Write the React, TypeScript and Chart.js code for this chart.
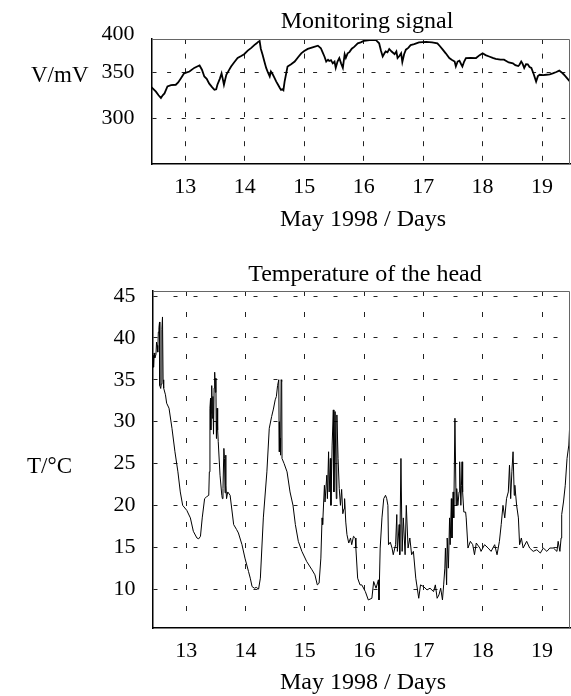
import { useEffect, useRef } from "react";
import { Chart, registerables } from "chart.js";

Chart.register(...registerables);

const FONT = '"Liberation Serif", "Times New Roman", serif';

const dayTicks = [13, 14, 15, 16, 17, 18, 19];
const signalTicks = [300, 350];
const tempTicks = [10, 15, 20, 25, 30, 35, 40, 45];

const signalTitle = "Monitoring signal";
const tempTitle = "Temperature of the head";
const xTitle = "May 1998 / Days";
const signalUnit = "V/mV";
const tempUnit = "T/°C";
const signalTopLabel = "400";

const signalDays = [
  12.42, 12.46, 12.506, 12.55, 12.59, 12.62, 12.65, 12.7, 12.76, 12.84, 12.88, 12.93, 12.98,
  13.07, 13.15, 13.2, 13.24, 13.28, 13.32, 13.36, 13.4, 13.45, 13.49, 13.52, 13.54, 13.58,
  13.61, 13.63, 13.65, 13.67, 13.69, 13.73, 13.77, 13.82, 13.88, 13.94, 13.99, 14.05, 14.11,
  14.16, 14.2, 14.22, 14.25, 14.27, 14.3, 14.33, 14.36, 14.39, 14.42, 14.44, 14.47, 14.5,
  14.53, 14.56, 14.59, 14.61, 14.63, 14.65, 14.67, 14.7, 14.72, 14.78, 14.84, 14.9, 14.95,
  15.0, 15.06, 15.14, 15.23, 15.28, 15.31, 15.34, 15.37, 15.4, 15.42, 15.45, 15.48, 15.51,
  15.53, 15.56, 15.59, 15.62, 15.65, 15.68, 15.7, 15.73, 15.76, 15.8, 15.84, 15.87, 15.9,
  15.95, 16.01, 16.1, 16.2, 16.26, 16.29, 16.32, 16.35, 16.37, 16.4, 16.43, 16.47, 16.52,
  16.55, 16.57, 16.6, 16.63, 16.65, 16.68, 16.71, 16.75, 16.79, 16.85, 16.93, 17.05, 17.15,
  17.24, 17.28, 17.33, 17.38, 17.44, 17.48, 17.53, 17.55, 17.58, 17.61, 17.64, 17.66, 17.69,
  17.72, 17.8, 17.89, 17.95, 18.0, 18.05, 18.11, 18.17, 18.22, 18.3, 18.36, 18.44, 18.51,
  18.55, 18.6, 18.62, 18.65, 18.67, 18.7, 18.73, 18.76, 18.79, 18.82, 18.86, 18.9, 18.93,
  18.96, 19.02, 19.07, 19.13, 19.18, 19.24, 19.29, 19.33, 19.37, 19.43, 19.49,
];
const signalValues = [
  334.6, 332, 329, 325, 322, 325, 327, 334.6, 336, 336.5, 339, 344, 349,
  351, 355, 356.5, 357.7, 353, 345.6, 343, 338, 334, 331, 331.5, 336.5, 343,
  349, 343, 336.5, 342, 347.5, 352, 356.6, 361, 365.8, 368, 370, 374, 377,
  380, 382, 383.3, 384.5, 376, 369.4, 362, 355, 350, 345.6, 351, 348, 344,
  340, 336.5, 333, 331, 331.5, 330.5, 340, 350, 356.6, 359, 362, 367, 371,
  373.5, 375.8, 377.5, 379.4, 376.6, 372, 367.5, 362, 364, 362.6, 363.5, 360, 362,
  355, 362, 365.8, 360, 355, 370, 366, 371, 372.3, 376, 378, 380, 382,
  383, 384.8, 385.5, 385.9, 382, 374, 367.5, 371, 373, 372, 375.8, 373, 370,
  373, 365.8, 368, 371, 361.4, 370, 375, 377, 380, 381, 382.9, 383.5, 383,
  382, 379, 375, 371, 365.8, 364, 362, 356.6, 362, 363, 359, 356.6, 362,
  365.8, 366, 365.8, 369, 371, 369, 367.5, 366, 365, 364, 364, 361, 360,
  358, 357, 358.4, 362, 360, 355, 359, 358.9, 356, 355, 348, 340, 346,
  347.5, 347, 347.5, 348, 349, 350.5, 352, 350, 347.5, 343, 338.4,
];

const tempDays = [
  12.42, 12.425, 12.43, 12.44, 12.45, 12.46, 12.47, 12.49, 12.5, 12.51, 12.52, 12.53, 12.54,
  12.55, 12.555, 12.57, 12.58, 12.59, 12.6, 12.61, 12.62, 12.65, 12.67, 12.71, 12.76, 12.81,
  12.86, 12.9, 12.94, 13.01, 13.07, 13.12, 13.18, 13.21, 13.24, 13.27, 13.31, 13.34, 13.38,
  13.39, 13.4, 13.41, 13.415, 13.42, 13.43, 13.44, 13.45, 13.46, 13.47, 13.48, 13.49, 13.5,
  13.505, 13.51, 13.52, 13.53, 13.54, 13.57, 13.6, 13.61, 13.62, 13.635, 13.645, 13.655,
  13.665, 13.67, 13.68, 13.7, 13.74, 13.8, 13.85, 13.88, 13.94, 13.99, 14.05, 14.08, 14.11,
  14.15, 14.18, 14.22, 14.25, 14.3, 14.36, 14.4, 14.44, 14.47, 14.5, 14.52, 14.54, 14.56,
  14.565, 14.57, 14.585, 14.59, 14.6, 14.61, 14.615, 14.65, 14.7, 14.75, 14.8, 14.84, 14.89,
  14.95, 15.03, 15.12, 15.17, 15.21, 15.24, 15.27, 15.29, 15.3, 15.33, 15.34, 15.37, 15.38,
  15.4, 15.41, 15.43, 15.44, 15.46, 15.48, 15.49, 15.51, 15.53, 15.54, 15.56, 15.58, 15.6,
  15.62, 15.64, 15.66, 15.67, 15.69, 15.71, 15.74, 15.77, 15.79, 15.82, 15.85, 15.86, 15.89,
  15.93, 15.96, 16.02, 16.07, 16.13, 16.16, 16.2, 16.24, 16.25, 16.27, 16.3, 16.33, 16.36,
  16.38, 16.4, 16.41, 16.44, 16.47, 16.49, 16.53, 16.55, 16.56, 16.59, 16.6, 16.62, 16.64,
  16.66, 16.69, 16.71, 16.74, 16.77, 16.8, 16.83, 16.87, 16.92, 16.95, 17.0, 17.06, 17.11,
  17.17, 17.2, 17.23, 17.26, 17.29, 17.32, 17.34, 17.36, 17.37, 17.39, 17.4, 17.42, 17.44,
  17.45, 17.47, 17.48, 17.5, 17.51, 17.53, 17.55, 17.56, 17.58, 17.6, 17.61, 17.63, 17.64,
  17.65, 17.66, 17.68, 17.71, 17.72, 17.75, 17.79, 17.83, 17.86, 17.89, 17.95, 17.97, 18.03,
  18.09, 18.14, 18.2, 18.24, 18.28, 18.31, 18.34, 18.37, 18.4, 18.43, 18.45, 18.47, 18.49,
  18.51, 18.53, 18.54, 18.57, 18.6, 18.62, 18.65, 18.68, 18.74, 18.79, 18.85, 18.91, 18.97,
  19.02, 19.08, 19.13, 19.19, 19.25, 19.27, 19.3, 19.32, 19.33, 19.36, 19.39, 19.42, 19.45,
  19.47, 19.49,
];
const tempValues = [
  35.7, 37.3, 36.2, 37.9, 36.5, 38.2, 37.6, 38.0, 39.5, 39.1, 38.3, 40.7, 41.2,
  41.9, 34.3, 33.96, 34.5, 41, 42.5, 35, 34, 33.2, 32.2, 31.6, 29.2, 26.4,
  24, 21.6, 20, 19.4, 18.5, 16.9, 16.1, 16.0, 16.3, 18.5, 20.8, 21.0, 21.2,
  24, 31.6, 32.8, 29, 31, 34.3, 30.4, 33, 28.5, 34, 35.9, 33.5, 35.2,
  30, 28, 31.6, 29, 27.6, 23.6, 21.2, 20.8, 22, 26.8, 25.6, 21.5,
  26, 22.4, 20.8, 21.6, 21.2, 17.7, 17.1, 16.7, 15.3, 13.7, 12.1, 11.3, 10.3,
  10.1, 10.2, 10.0, 11.3, 18.5, 24, 29.2, 30.6, 31.5, 32.6, 33, 34.3, 35,
  30, 26.4, 28, 26, 35, 34.8, 25.6, 25, 24, 21.6, 20, 17.7, 15.7,
  14.5, 13.3, 12.3, 11.7, 10.5, 10.7, 13.7, 18.5, 17.7, 22.4, 20.4, 23.6, 20.8,
  26.4, 21.6, 25.6, 20, 27.2, 31.4, 21.6, 31.2, 20.8, 30.8, 25.6, 22, 20,
  21.9, 19, 19.6, 20.8, 18, 16.5, 15.5, 16.1, 15.3, 16.3, 16.1, 14.9, 11.3,
  10.5, 10.5, 9.7, 8.7, 8.9, 10.9, 10.1, 11.1, 8.7, 14.9, 18.5, 20.8, 21.2,
  20.8, 20, 15.3, 15.6, 14.9, 14.1, 15.3, 18.9, 14.5, 17.7, 14.1, 25.6, 14.5,
  18.5, 14.1, 20, 14.9, 16.1, 14.1, 14.5, 11.3, 8.9, 10.5, 10.3, 9.9, 10.1,
  9.7, 10.5, 8.9, 9.3, 10.1, 8.7, 10.5, 12.5, 14.9, 10.5, 16.1, 12.5, 18.5,
  15.3, 20.8, 16.1, 21.6, 18.5, 30.4, 20, 22, 20, 21.6, 25.2, 20, 22.4,
  25.2, 21.6, 19.2, 19.2, 18.5, 14.9, 15.7, 15.3, 14.1, 15.5, 14.9, 14.5, 15.3,
  14.9, 14.5, 15.3, 14.1, 15.7, 17.7, 20, 18.5, 20.8, 21.6, 24.8, 20.8, 24,
  26.4, 21.2, 22.4, 20, 18.5, 15.3, 16.1, 14.9, 15.7, 14.9, 14.5, 14.7, 14.3,
  14.9, 14.5, 14.9, 14.9, 14.5, 15.7, 14.5, 16.1, 18.9, 20.4, 22.4, 25.6, 27.2,
  30.4, 31.2,
];

type Decor = {
  title: string;
  titleX: number;
  titleY: number;
  xTitle: string;
  xTitleX: number;
  xTitleY: number;
  yTitle: string;
  yTitleX: number;
  yTitleY: number;
  extra?: { text: string; x: number; y: number };
};

const decorPlugin = {
  id: "decor",
  afterDraw(chart: any, _args: any, opts: Decor) {
    const { ctx, chartArea: a } = chart;
    ctx.save();
    ctx.strokeStyle = "#666";
    ctx.lineWidth = 1;
    ctx.beginPath();
    ctx.moveTo(a.left, a.top + 0.5);
    ctx.lineTo(a.right - 0.5, a.top + 0.5);
    ctx.lineTo(a.right - 0.5, a.bottom);
    ctx.stroke();
    ctx.fillStyle = "#000";
    ctx.textBaseline = "alphabetic";
    ctx.textAlign = "center";
    ctx.font = `24px ${FONT}`;
    ctx.fillText(opts.title, opts.titleX, opts.titleY);
    ctx.fillText(opts.xTitle, opts.xTitleX, opts.xTitleY);
    ctx.font = `23px ${FONT}`;
    ctx.textAlign = "left";
    ctx.fillText(opts.yTitle, opts.yTitleX, opts.yTitleY);
    if (opts.extra) {
      ctx.font = `22px ${FONT}`;
      ctx.textAlign = "right";
      ctx.fillText(opts.extra.text, opts.extra.x, opts.extra.y);
    }
    ctx.restore();
  },
};

function makeConfig(
  days: number[],
  values: number[],
  lineWidth: number,
  yMin: number,
  yMax: number,
  yTicks: number[],
  padTop: number,
  xHeight: number,
  yWidth: number,
  vDash: number[],
  hDash: number[],
  decor: Decor
): any {
  return {
    type: "line",
    data: {
      datasets: [
        {
          data: days.map((d, i) => ({ x: d, y: values[i] })),
          borderColor: "#000",
          borderWidth: lineWidth,
          pointRadius: 0,
          tension: 0,
          fill: false,
        },
      ],
    },
    options: {
      animation: false,
      responsive: false,
      parsing: false,
      normalized: true,
      layout: { padding: { left: 0, right: 1, top: padTop, bottom: 0 } },
      plugins: {
        legend: { display: false },
        tooltip: { enabled: false },
        title: { display: false },
        decor,
      },
      scales: {
        x: {
          type: "linear",
          min: 12.44,
          max: 19.47,
          afterBuildTicks: (s: any) => {
            s.ticks = dayTicks.map((v) => ({ value: v }));
          },
          afterFit: (s: any) => {
            s.height = xHeight;
          },
          grid: { color: "#222", lineWidth: 1, drawTicks: false },
          border: { color: "#000", width: 1.5, dash: vDash },
          ticks: {
            padding: 10,
            color: "#000",
            font: { family: FONT, size: 22 },
            maxRotation: 0,
            autoSkip: false,
            callback: (v: number) => String(v),
          },
        },
        y: {
          type: "linear",
          min: yMin,
          max: yMax,
          afterBuildTicks: (s: any) => {
            s.ticks = yTicks.map((v) => ({ value: v }));
          },
          afterFit: (s: any) => {
            s.width = yWidth;
          },
          grid: { color: "#222", lineWidth: 1, drawTicks: false },
          border: { color: "#000", width: 1.5, dash: hDash },
          ticks: {
            padding: 17.5,
            color: "#000",
            font: { family: FONT, size: 22 },
            autoSkip: false,
            callback: (v: number) => String(v),
          },
        },
      },
    },
    plugins: [decorPlugin],
  };
}

export default function App() {
  const topRef = useRef<HTMLCanvasElement | null>(null);
  const botRef = useRef<HTMLCanvasElement | null>(null);

  useEffect(() => {
    const top = new Chart(
      topRef.current as HTMLCanvasElement,
      makeConfig(signalDays, signalValues, 1.8, 249.6, 386.7, signalTicks, 39, 76, 152, [5, 9.6], [4, 10.6], {
        title: signalTitle,
        titleX: 367,
        titleY: 27.5,
        xTitle,
        xTitleX: 363,
        xTitleY: 225.5,
        yTitle: signalUnit,
        yTitleX: 31,
        yTitleY: 81.5,
        extra: { text: signalTopLabel, x: 134.5, y: 40 },
      })
    );
    const bot = new Chart(
      botRef.current as HTMLCanvasElement,
      makeConfig(tempDays, tempValues, 1, 5.35, 45.6, tempTicks, 51, 68, 153, [5, 16], [4, 16], {
        title: tempTitle,
        titleX: 365,
        titleY: 41,
        xTitle,
        xTitleX: 363,
        xTitleY: 449,
        yTitle: tempUnit,
        yTitleX: 27,
        yTitleY: 232.7,
      })
    );
    return () => {
      top.destroy();
      bot.destroy();
    };
  }, []);

  return (
    <div style={{ position: "absolute", left: 0, top: 0, width: 571, height: 696, background: "#fff" }}>
      <canvas ref={topRef} width={571} height={240} style={{ display: "block", width: 571, height: 240 }} />
      <canvas ref={botRef} width={571} height={456} style={{ display: "block", width: 571, height: 456 }} />
    </div>
  );
}
